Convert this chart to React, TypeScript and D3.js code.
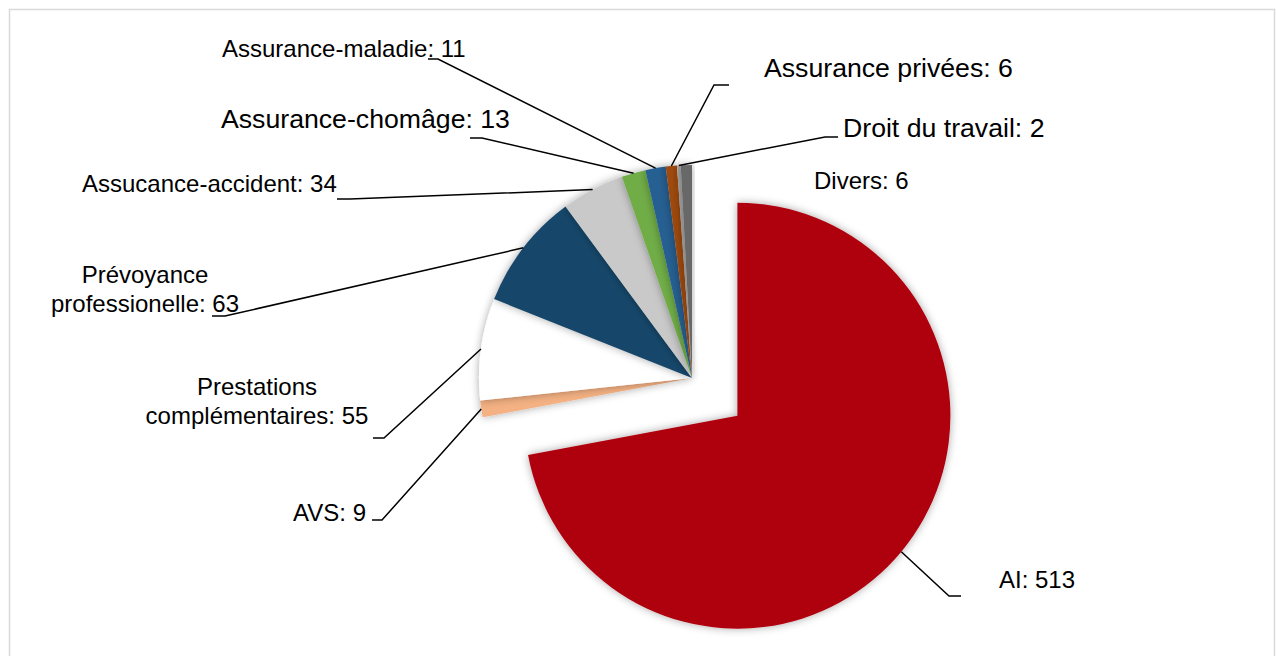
import React from 'react';
import * as d3 from 'd3';

const categories = [
  'AI',
  'AVS',
  'Prestations\ncomplémentaires',
  'Prévoyance\nprofessionelle',
  'Assucance-accident',
  'Assurance-chomâge',
  'Assurance-maladie',
  'Assurance privées',
  'Droit du travail',
  'Divers',
];
const values = [513, 9, 55, 63, 34, 13, 11, 6, 2, 6];
const colors = ['#AF0511', '#F4B183', '#FFFFFF', '#16476A', '#C9C9C9', '#70AD47', '#255E91', '#9E480E', '#A5A5A5', '#686868'];

const W = 1276;
const H = 656;
const cx = 692;
const cy = 378;
const R = 213;
const explode = [59, 0, 0, 0, 0, 0, 0, 0, 0, 0];

// where Excel put each data label (text anchor, font size, leader elbow + end)
const labelLayout = [
  { x: 999, y: 588, anchor: 'start', size: 24, elbow: [949, 596], end: [961, 596] },
  { x: 366, y: 521, anchor: 'end', size: 24, elbow: [382, 520], end: [372, 520] },
  { x: 257, y: 395, anchor: 'middle', size: 24, elbow: [384, 438], end: [373, 438] },
  { x: 145, y: 283, anchor: 'middle', size: 24, elbow: [225, 316], end: [212, 316] },
  { x: 82, y: 192, anchor: 'start', size: 24, elbow: [350, 199], end: [337, 199] },
  { x: 221, y: 128, anchor: 'start', size: 26.67, elbow: [482, 138], end: [470, 138] },
  { x: 222, y: 57, anchor: 'start', size: 24, elbow: [438, 59], end: [428, 59] },
  { x: 764, y: 77, anchor: 'start', size: 26.67, elbow: [714, 85], end: [729, 85] },
  { x: 843, y: 137, anchor: 'start', size: 26.67, elbow: [825, 137], end: [838, 137] },
  { x: 814, y: 189, anchor: 'start', size: 24, elbow: null, end: null },
];

const font = '"Liberation Sans", Arial, sans-serif';

export default function App() {
  const pie = d3.pie<number>().sort(null).value((d) => d)(values);
  const arc = d3.arc<d3.PieArcDatum<number>>().innerRadius(0).outerRadius(R);
  const edge = d3.arc<d3.PieArcDatum<number>>().innerRadius(R).outerRadius(R);

  const offsetOf = (d: d3.PieArcDatum<number>, i: number) => {
    const mid = (d.startAngle + d.endAngle) / 2;
    return [explode[i] * Math.sin(mid), -explode[i] * Math.cos(mid)];
  };

  return (
    <svg width={W} height={H} style={{ position: 'absolute', left: 0, top: 0, background: '#fff' }}>
      <defs>
        <filter id="shadow" x="-20%" y="-20%" width="140%" height="140%">
          <feDropShadow dx="0" dy="0" stdDeviation="4" floodColor="#000" floodOpacity="0.35" />
        </filter>
      </defs>
      <rect x={9.5} y={9.5} width={W - 11} height={H + 20} fill="#fff" stroke="#D9D9D9" strokeWidth={1.5} />

      <g transform={`translate(${cx},${cy})`}>
        {pie.map((d, i) => {
          const [ox, oy] = offsetOf(d, i);
          return (
            <path
              key={categories[i]}
              d={arc(d) || ''}
              transform={`translate(${ox},${oy})`}
              fill={colors[i]}
              filter="url(#shadow)"
            />
          );
        })}
      </g>

      {pie.map((d, i) => {
        const lay = labelLayout[i];
        if (!lay.elbow || !lay.end) return null;
        const [ox, oy] = offsetOf(d, i);
        const [ex, ey] = edge.centroid(d);
        const pts: [number, number][] = [[cx + ox + ex, cy + oy + ey], lay.elbow as [number, number], lay.end as [number, number]];
        return (
          <path key={'l' + i} d={d3.line()(pts) || ''} fill="none" stroke="#000" strokeWidth={1.5} />
        );
      })}

      {pie.map((d, i) => {
        const lay = labelLayout[i];
        const lines = `${categories[i]}: ${values[i]}`.split('\n');
        return (
          <text
            key={'t' + i}
            x={lay.x}
            y={lay.y}
            textAnchor={lay.anchor}
            fontFamily={font}
            fontSize={lay.size}
            fill="#000"
          >
            {lines.map((ln, k) => (
              <tspan key={k} x={lay.x} dy={k === 0 ? 0 : 29}>
                {ln}
              </tspan>
            ))}
          </text>
        );
      })}
    </svg>
  );
}
